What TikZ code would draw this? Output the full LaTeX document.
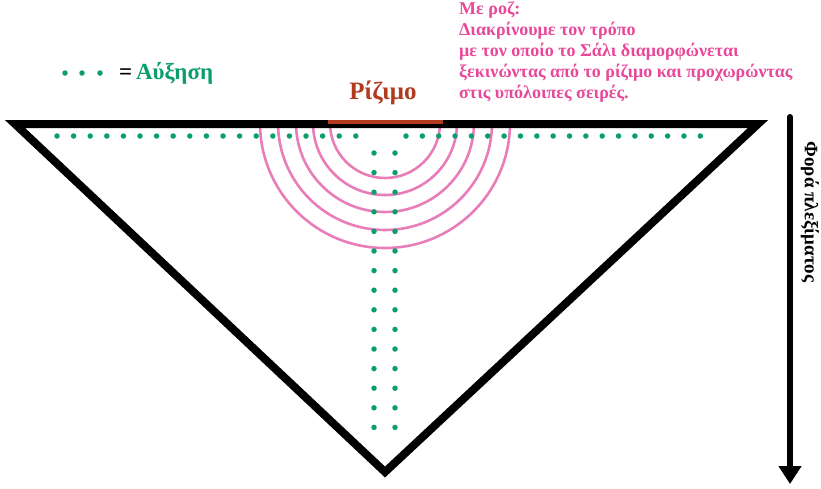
\documentclass[tikz,border=0pt]{standalone}
\usepackage{fontspec}
\setmainfont{Liberation Serif}
\usetikzlibrary{arrows.meta}
\definecolor{grn}{HTML}{0A9E6B}
\definecolor{pnk}{HTML}{E8489A}
\definecolor{arc}{HTML}{E97DB9}
\definecolor{brn}{HTML}{B23A1E}
\begin{document}
\begin{tikzpicture}[x=1pt,y=-1pt,
  dot/.style={circle,fill=grn,inner sep=0pt,minimum size=5.5pt},
  arcl/.style={draw=arc,line width=2.6pt}]
\useasboundingbox (0,0) rectangle (821,488);
% arcs
\foreach \r in {55,72,89,107,125}
  \draw[arcl] (385+\r,123) arc[start angle=0,end angle=180,radius=\r];
% triangle
\draw[line width=8pt,line join=miter] (15,124) -- (758,124) -- (385,472) -- cycle;
% brown bar
\draw[brn,line width=3.5pt] (328,122) -- (443,122);
\node[brn,font=\bfseries\fontsize{25}{28}\selectfont] (title) at (383,93) {Ρίζιμο};
% dots
\foreach \i in {0,...,18} \node[dot] at (57+\i*16.6,136) {};
\foreach \i in {0,...,18} \node[dot] at (406+\i*16.35,136) {};
\foreach \i in {0,...,14} {\node[dot] at (374,153+\i*19.6) {}; \node[dot] at (395,153+\i*19.6) {};}
% legend
\foreach \x in {65,82,100} \node[dot] at (\x,73) {};
\node[anchor=west,font=\bfseries\fontsize{23}{26}\selectfont,inner sep=0pt] (leg) at (119,73) {=\,\textcolor{grn}{Αύξηση}};
% pink text
\node[anchor=north west,align=left,pnk,inner sep=0pt,font=\bfseries\fontsize{18}{20.8}\selectfont] (txt) at (459,2)
 {Με ροζ:\\Διακρίνουμε τον τρόπο\\με τον οποίο το Σάλι διαμορφώνεται\\ξεκινώντας από το ρίζιμο και προχωρώντας\\στις υπόλοιπες σειρές.};
% arrow
\coordinate (a1) at (790,117);
\coordinate (a2) at (790,484);
\draw[line width=6pt,line cap=round,-{Triangle[length=18pt,width=22pt]}] (a1) -- (a2);
\node[rotate=-90,font=\bfseries\fontsize{19}{22}\selectfont] (dir) at (810,212) {Φορά πλεξίματος};
\end{tikzpicture}
\end{document}
